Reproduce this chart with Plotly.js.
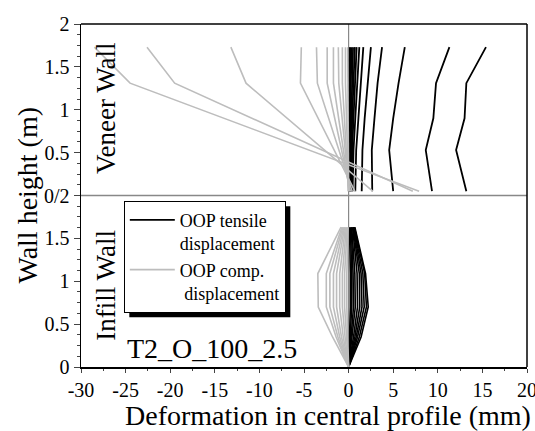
<!DOCTYPE html>
<html>
<head>
<meta charset="utf-8">
<script src="https://cdn.plot.ly/plotly-3.0.1.min.js"></script>
<style>html,body{margin:0;padding:0;background:#fff;}#chart{width:535px;height:431px;}</style>
</head>
<body>
<div id="chart"></div>
<script>
// ---- Data ----
// Veneer wall (upper panel): sensor heights (m)
const veneerHeights = [0.05, 0.53, 0.9, 1.31, 1.73];
// OOP tensile displacement profiles (mm), one array per step
const veneerTensile = [
  [13.2, 12.05, 13.0, 13.2, 15.4],
  [9.35, 8.65, 9.5, 9.8, 11.3],
  [5.0, 4.55, 5.0, 5.6, 6.3],
  [2.65, 2.6, 2.9, 3.25, 3.75],
  [1.47, 1.55, 1.8, 2.15, 2.5],
  [0.75, 0.85, 1.1, 1.35, 1.65],
  [0.45, 0.55, 0.75, 0.95, 1.2],
  [0.35, 0.4, 0.55, 0.7, 0.9],
  [0.25, 0.3, 0.4, 0.55, 0.7],
  [0.15, 0.2, 0.3, 0.4, 0.5],
  [0.1, 0.12, 0.2, 0.25, 0.35],
  [0.05, 0.07, 0.1, 0.15, 0.2],
  [0.02, 0.03, 0.05, 0.07, 0.1]
];
// OOP compression displacement profiles (mm)
const veneerComp = [
  [7.9, -4.5, -14.0, -24.5, -28.5],
  [7.2, -3.0, -10.8, -19.5, -22.6],
  [2.7, -2.7, -6.9, -11.5, -13.2],
  [0.7, -1.6, -3.4, -5.4, -5.3],
  [0.4, -1.1, -2.3, -3.5, -3.6],
  [0.2, -0.8, -1.6, -2.4, -2.4],
  [0.1, -0.6, -1.1, -1.7, -1.7],
  [0.05, -0.4, -0.75, -1.1, -1.15],
  [0.0, -0.25, -0.45, -0.7, -0.7],
  [0.0, -0.15, -0.25, -0.35, -0.35],
  [0.0, -0.05, -0.08, -0.1, -0.1]
];
// Infill wall (lower panel): sensor heights (m)
const infillHeights = [0, 0.35, 0.7, 1.09, 1.63];
const infillTensile = [
  [0, 1.4, 2.2, 1.9, 0.7],
  [0, 1.2, 2.0, 1.8, 0.65],
  [0, 1.0, 1.75, 1.6, 0.6],
  [0, 0.85, 1.5, 1.4, 0.55],
  [0, 0.7, 1.25, 1.2, 0.5],
  [0, 0.55, 1.0, 0.95, 0.45],
  [0, 0.4, 0.75, 0.7, 0.35],
  [0, 0.3, 0.55, 0.5, 0.3],
  [0, 0.2, 0.35, 0.35, 0.2],
  [0, 0.1, 0.2, 0.2, 0.1]
];
const infillComp = [
  [0, -1.8, -3.4, -3.45, -0.85],
  [0, -1.4, -2.5, -2.5, -0.75],
  [0, -1.2, -2.1, -2.1, -0.65],
  [0, -1.0, -1.7, -1.7, -0.55],
  [0, -0.8, -1.35, -1.35, -0.45],
  [0, -0.6, -1.0, -1.0, -0.35],
  [0, -0.4, -0.7, -0.7, -0.25],
  [0, -0.25, -0.45, -0.45, -0.15],
  [0, -0.1, -0.2, -0.2, -0.05]
];
const xTicks = [-30, -25, -20, -15, -10, -5, 0, 5, 10, 15, 20];
const xTickText = ['-30', '-25', '-20', '-15', '-10', '-5', '0', '5', '10', '15', '20'];
const yTicksBottom = [0, 0.5, 1, 1.5];
const yTicksTop = [0, 0.5, 1, 1.5, 2];
const yTickTextTop = ['0/2', '0.5', '1', '1.5', '2'];
const seriesNames = ['OOP tensile<br>displacement', 'OOP comp.<br>&nbsp;displacement'];

// ---- Traces ----
const FONT = 'Liberation Serif, Times New Roman, serif';
const BLACK = '#000000', GRAY = '#bdbdbd';
const traces = [];
function addSet(set, heights, yaxis, color, width, name, rank, legendOn) {
  set.forEach((xs, i) => {
    traces.push({
      x: xs, y: heights, type: 'scatter', mode: 'lines', xaxis: 'x', yaxis: yaxis,
      line: {color: color, width: width},
      name: name, legendgroup: name, legendrank: rank,
      showlegend: legendOn && i === 0, hoverinfo: 'x+y'
    });
  });
}
addSet(infillTensile, infillHeights, 'y', BLACK, 1.6, seriesNames[0], 1, true);
addSet(infillComp, infillHeights, 'y', GRAY, 1.6, seriesNames[1], 2, true);
addSet(veneerTensile, veneerHeights, 'y2', BLACK, 1.8, seriesNames[0], 1, false);
addSet(veneerComp, veneerHeights, 'y2', GRAY, 1.6, seriesNames[1], 2, false);

const axFont = {family: FONT, size: 20, color: '#000'};
const layout = {
  width: 535, height: 431,
  margin: {l: 81, r: 8, t: 24, b: 64},
  paper_bgcolor: '#fff', plot_bgcolor: '#fff',
  showlegend: true,
  xaxis: {
    range: [-30, 20], tickvals: xTicks, ticktext: xTickText, ticks: 'outside', ticklen: 4, tickwidth: 1,
    showline: true, linecolor: '#000', linewidth: 1.5, zeroline: false, showgrid: false,
    tickfont: axFont, anchor: 'y', ticklabeloverflow: 'allow',
    minor: {dtick: 2.5, ticks: 'outside', ticklen: 2, tickwidth: 1, showgrid: false}
  },
  yaxis: {
    domain: [0, 0.5], range: [0, 2], tickvals: yTicksBottom, ticks: 'outside', ticklen: 6,
    showline: true, linecolor: '#000', linewidth: 1.5, zeroline: false, showgrid: false,
    tickfont: axFont, anchor: 'x',
    minor: {dtick: 0.125, ticks: 'outside', ticklen: 3, tickwidth: 1, showgrid: false}
  },
  yaxis2: {
    domain: [0.5, 1], range: [0, 2], tickvals: yTicksTop, ticktext: yTickTextTop,
    ticks: 'outside', ticklen: 6,
    showline: true, linecolor: '#000', linewidth: 1.5, zeroline: false, showgrid: false,
    tickfont: axFont, anchor: 'x',
    minor: {dtick: 0.125, ticks: 'outside', ticklen: 3, tickwidth: 1, showgrid: false}
  },
  legend: {
    x: 0.096, y: 0.485, xanchor: 'left', yanchor: 'top',
    bgcolor: '#fff', bordercolor: '#000', borderwidth: 1,
    font: {family: FONT, size: 18, color: '#000'},
    itemwidth: 45, valign: 'top', tracegroupgap: 0, traceorder: 'normal'
  },
  shapes: [
    {type: 'line', xref: 'x', yref: 'paper', x0: 0, x1: 0, y0: 0, y1: 1,
     line: {color: '#888', width: 1.2}, layer: 'below'},
    {type: 'line', xref: 'paper', yref: 'paper', x0: 0, x1: 1, y0: 0.5, y1: 0.5,
     line: {color: '#888', width: 1.5}, layer: 'above'},
    {type: 'line', xref: 'paper', yref: 'paper', x0: 0, x1: 1, y0: 1, y1: 1,
     line: {color: '#000', width: 1.5}},
    {type: 'line', xref: 'paper', yref: 'paper', x0: 1, x1: 1, y0: 0, y1: 1,
     line: {color: '#000', width: 1.5}}
  ],
  annotations: [
    {text: 'Veneer Wall', xref: 'x', yref: 'y2', x: -27.2, y: 1.02, textangle: -90,
     xanchor: 'center', yanchor: 'middle',
     showarrow: false, font: {family: FONT, size: 27, color: '#000'}},
    {text: 'Infill Wall', xref: 'x', yref: 'y', x: -27.2, y: 0.96, textangle: -90,
     xanchor: 'center', yanchor: 'middle',
     showarrow: false, font: {family: FONT, size: 27, color: '#000'}},
    {text: 'T2_O_100_2.5', xref: 'x', yref: 'y', x: -15.35, y: 0.22,
     xanchor: 'center', yanchor: 'middle',
     showarrow: false, font: {family: FONT, size: 28, color: '#000'}},
    {text: 'Wall height (m)', xref: 'paper', yref: 'paper', x: -0.121, y: 0.5, textangle: -90,
     xanchor: 'center', yanchor: 'middle',
     showarrow: false, font: {family: FONT, size: 28, color: '#000'}},
    {text: 'Deformation in central profile (mm)', xref: 'paper', yref: 'paper', x: 0.553, y: -0.142,
     xanchor: 'center', yanchor: 'middle', showarrow: false, font: {family: FONT, size: 28, color: '#000'}}
  ]
};
Plotly.newPlot('chart', traces, layout, {displayModeBar: false, staticPlot: true}).then(gd => {
  // drop shadow behind the legend box, sized from the rendered legend
  const bg = gd.querySelector('.legend .bg');
  if (!bg) return;
  const r = bg.getBoundingClientRect();
  const c = gd.getBoundingClientRect();
  const fs = gd._fullLayout._size;
  const toPX = px => (px - fs.l) / fs.w;
  const toPY = py => 1 - (py - fs.t) / fs.h;
  const off = 5;
  const shapes = layout.shapes.concat([{
    type: 'rect', xref: 'paper', yref: 'paper',
    x0: toPX(r.left - c.left + off), x1: toPX(r.right - c.left + off),
    y0: toPY(r.bottom - c.top + off), y1: toPY(r.top - c.top + off),
    fillcolor: '#000', line: {width: 0}, layer: 'above'
  }]);
  return Plotly.relayout(gd, {shapes: shapes});
});
</script>
</body>
</html>
